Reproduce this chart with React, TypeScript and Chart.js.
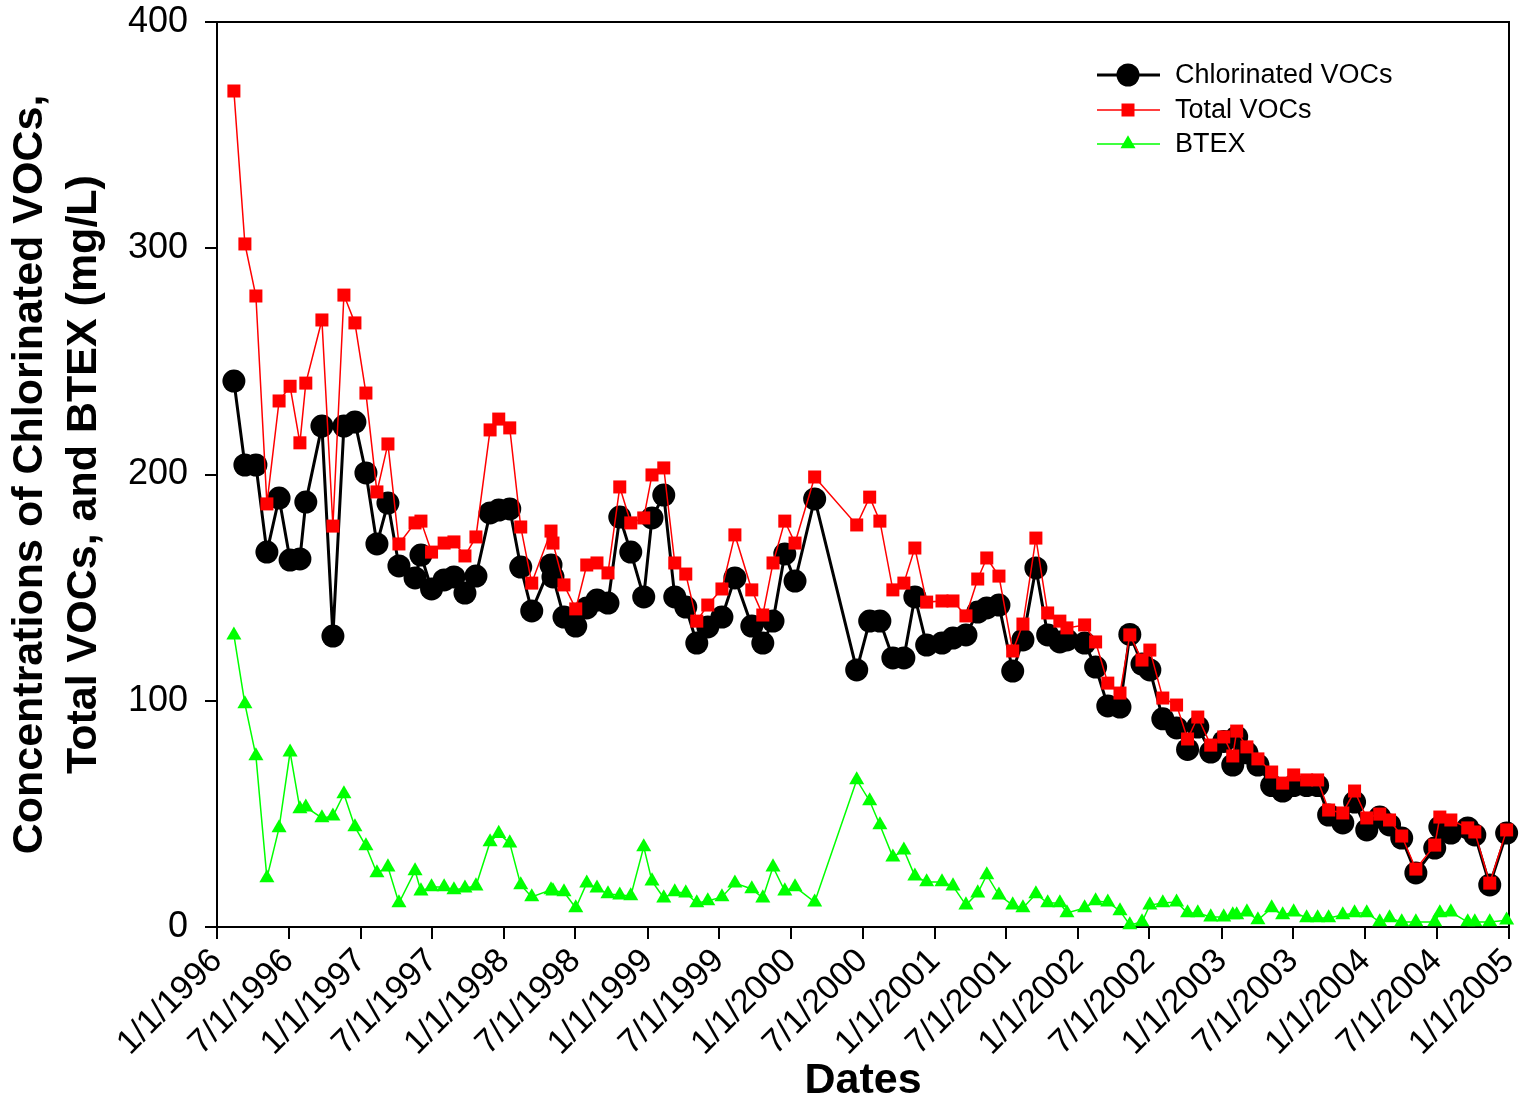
import React, { useEffect, useRef } from 'react';
import { Chart, registerables } from 'chart.js';

Chart.register(...registerables);

// ---- Data ----
const sampleDates = [
  '1996-02-13', '1996-03-12', '1996-04-09', '1996-05-07', '1996-06-07', '1996-07-05', '1996-07-30', '1996-08-14',
  '1996-09-24', '1996-10-22', '1996-11-19', '1996-12-17', '1997-01-14', '1997-02-11', '1997-03-11', '1997-04-08',
  '1997-05-19', '1997-06-03', '1997-06-30', '1997-08-01', '1997-08-26', '1997-09-23', '1997-10-21', '1997-11-26',
  '1997-12-18', '1998-01-15', '1998-02-12', '1998-03-12', '1998-04-30', '1998-05-05', '1998-06-02', '1998-07-02',
  '1998-07-30', '1998-08-25', '1998-09-22', '1998-10-22', '1998-11-19', '1998-12-22', '1999-01-12', '1999-02-11',
  '1999-03-11', '1999-04-08', '1999-05-06', '1999-06-03', '1999-07-09', '1999-08-11', '1999-09-23', '1999-10-21',
  '1999-11-16', '1999-12-16', '2000-01-11', '2000-03-01', '2000-06-16', '2000-07-19', '2000-08-14', '2000-09-16',
  '2000-10-14', '2000-11-11', '2000-12-11', '2001-01-19', '2001-02-16', '2001-03-21', '2001-04-20', '2001-05-13',
  '2001-06-13', '2001-07-18', '2001-08-13', '2001-09-15', '2001-10-15', '2001-11-15', '2001-12-03', '2002-01-17',
  '2002-02-14', '2002-03-17', '2002-04-17', '2002-05-12', '2002-06-12', '2002-07-02', '2002-08-04', '2002-09-08',
  '2002-10-06', '2002-11-01', '2002-12-04', '2003-01-06', '2003-01-29', '2003-02-08', '2003-03-06', '2003-04-03',
  '2003-05-08', '2003-06-05', '2003-07-03', '2003-08-05', '2003-09-02', '2003-09-30', '2003-11-05', '2003-12-05',
  '2004-01-05', '2004-02-07', '2004-03-03', '2004-04-03', '2004-05-09', '2004-06-26', '2004-07-09', '2004-08-06',
  '2004-09-18', '2004-10-06', '2004-11-13', '2004-12-26',
];

const chlorinatedVOCs = [
  241.3, 204.2, 204.2, 165.7, 189.6, 162.2, 162.7, 187.8,
  221.4, 128.6, 221.4, 223.2, 200.7, 169.3, 187.4, 159.6,
  154.3, 164.4, 149.4, 153.4, 154.7, 147.6, 155.1, 183.0,
  184.3, 184.8, 159.1, 139.7, 160.0, 154.7, 137.0, 133.0,
  141.0, 144.5, 143.2, 181.2, 165.7, 145.9, 180.8, 190.9,
  145.9, 141.4, 125.5, 132.6, 137.0, 154.3, 133.0, 125.5,
  135.2, 164.9, 152.9, 189.2, 113.6, 135.2, 135.2, 118.9,
  118.9, 145.9, 124.6, 125.5, 127.7, 129.1, 139.2, 141.0,
  142.3, 113.1, 126.9, 158.7, 129.1, 126.0, 126.9, 125.5,
  114.9, 97.7, 97.2, 129.3, 116.2, 113.6, 92.0, 88.0,
  78.5, 88.4, 77.3, 82.0, 71.6, 84.0, 77.0, 71.6,
  62.5, 60.1, 62.5, 62.5, 62.5, 49.5, 46.0, 55.2,
  42.9, 48.6, 45.1, 39.3, 23.9, 34.9, 44.2, 41.5,
  43.8, 40.7, 18.6, 41.5,
];

const totalVOCs = [
  369.5, 301.9, 278.9, 187.0, 232.5, 239.0, 214.0, 240.4,
  268.3, 177.2, 279.3, 267.0, 236.0, 192.3, 213.5, 169.3,
  178.6, 179.4, 165.7, 169.7, 170.2, 164.0, 172.4, 219.7,
  224.5, 220.6, 176.8, 152.0, 175.0, 169.7, 151.2, 140.6,
  160.0, 160.9, 156.5, 194.5, 178.6, 180.8, 199.8, 202.9,
  160.9, 156.0, 135.2, 142.3, 149.4, 173.3, 149.0, 137.9,
  160.9, 179.4, 169.7, 198.9, 177.7, 190.0, 179.4, 149.0,
  152.0, 167.5, 143.6, 144.1, 144.1, 137.5, 153.8, 163.1,
  155.1, 122.0, 133.9, 171.9, 138.8, 135.2, 132.2, 133.5,
  126.0, 107.8, 103.4, 129.1, 118.0, 122.4, 101.2, 98.1,
  83.1, 92.8, 80.4, 84.0, 75.6, 86.6, 79.6, 74.3,
  68.5, 63.6, 67.2, 65.0, 65.0, 51.7, 50.4, 60.1,
  48.2, 49.9, 47.3, 40.2, 25.6, 36.2, 48.6, 47.3,
  43.8, 42.0, 19.4, 42.9,
];

const btex = [
  129.0, 98.6, 75.6, 21.7, 43.8, 77.3, 52.2, 53.0,
  48.2, 49.0, 58.8, 44.2, 35.8, 23.9, 26.5, 10.6,
  24.8, 15.9, 17.7, 17.7, 16.4, 17.2, 18.1, 37.6,
  41.3, 37.1, 18.6, 13.3, 16.4, 15.9, 15.5, 8.4,
  19.4, 17.2, 14.6, 14.1, 13.7, 35.4, 20.3, 12.8,
  15.5, 15.0, 10.6, 11.5, 13.3, 19.4, 16.8, 12.8,
  26.5, 15.9, 17.7, 11.0, 65.0, 55.7, 45.1, 30.9,
  34.0, 22.5, 19.9, 19.9, 18.1, 9.7, 15.0, 23.0,
  14.1, 9.7, 8.4, 14.6, 10.6, 10.6, 6.2, 8.4,
  11.5, 11.0, 7.1, 0.9, 2.2, 9.7, 10.6, 11.0,
  6.2, 6.2, 4.4, 4.4, 5.3, 5.3, 6.6, 3.1,
  8.4, 5.3, 6.6, 4.0, 4.0, 4.0, 5.3, 6.2,
  6.2, 2.2, 4.0, 2.2, 2.2, 2.2, 6.2, 6.6,
  2.2, 2.2, 2.2, 3.0,
];

const xTickLabels = [
  '1/1/1996', '7/1/1996', '1/1/1997', '7/1/1997', '1/1/1998', '7/1/1998', '1/1/1999', '7/1/1999',
  '1/1/2000', '7/1/2000', '1/1/2001', '7/1/2001', '1/1/2002', '7/1/2002', '1/1/2003', '7/1/2003',
  '1/1/2004', '7/1/2004', '1/1/2005',
];

const yTickValues = [0, 100, 200, 300, 400];

const seriesNames = ['Chlorinated VOCs', 'Total VOCs', 'BTEX'];

// ---- helpers ----
const FONT = "'Liberation Sans', Arial, Helvetica, sans-serif";

function isoToMs(s: string): number {
  const [y, m, d] = s.split('-').map(Number);
  return Date.UTC(y, m - 1, d);
}
function labelToMs(s: string): number {
  const [m, d, y] = s.split('/').map(Number);
  return Date.UTC(y, m - 1, d);
}

const xTickValues = xTickLabels.map(labelToMs);

function pointsOf(values: number[]) {
  return sampleDates.map((d, i) => ({ x: isoToMs(d), y: values[i] }));
}

const framePlugin = {
  id: 'frame',
  beforeDatasetsDraw(chart: any) {
    const { ctx, chartArea } = chart;
    ctx.save();
    ctx.strokeStyle = '#000';
    ctx.lineWidth = 2;
    ctx.beginPath();
    ctx.moveTo(chartArea.left, chartArea.top);
    ctx.lineTo(chartArea.right, chartArea.top);
    ctx.lineTo(chartArea.right, chartArea.bottom);
    ctx.stroke();
    ctx.restore();
  },
};

const legendPlugin = {
  id: 'customLegend',
  afterDraw(chart: any) {
    const { ctx } = chart;
    const rows = [
      { y: 75, color: '#000000', lw: 3, style: 'circle', r: 11.5 },
      { y: 110, color: '#FF0000', lw: 1.5, style: 'rect', r: 6.5 },
      { y: 144, color: '#00FF00', lw: 1.5, style: 'triangle', r: 8.7 },
    ];
    const x0 = 1097;
    const x1 = 1160;
    const xm = 1128;
    const xt = 1175;
    ctx.save();
    rows.forEach((row, i) => {
      ctx.strokeStyle = row.color;
      ctx.fillStyle = row.color;
      ctx.lineWidth = row.lw;
      ctx.beginPath();
      ctx.moveTo(x0, row.y);
      ctx.lineTo(x1, row.y);
      ctx.stroke();
      ctx.beginPath();
      if (row.style === 'circle') {
        ctx.arc(xm, row.y, row.r, 0, Math.PI * 2);
      } else if (row.style === 'rect') {
        ctx.rect(xm - row.r, row.y - row.r, row.r * 2, row.r * 2);
      } else {
        const r = row.r;
        ctx.moveTo(xm, row.y - r);
        ctx.lineTo(xm + r * Math.sin((2 * Math.PI) / 3), row.y + r / 2);
        ctx.lineTo(xm - r * Math.sin((2 * Math.PI) / 3), row.y + r / 2);
        ctx.closePath();
      }
      ctx.fill();
      ctx.fillStyle = '#000';
      ctx.font = `27px ${FONT}`;
      ctx.textAlign = 'left';
      ctx.textBaseline = 'middle';
      ctx.fillText(seriesNames[i], xt, row.y + 1);
    });
    ctx.restore();
  },
};

export default function App() {
  const canvasRef = useRef<HTMLCanvasElement | null>(null);

  useEffect(() => {
    document.body.style.margin = '0';
    const canvas = canvasRef.current;
    if (!canvas) return;

    const chart = new Chart(canvas, {
      type: 'line',
      data: {
        datasets: [
          {
            label: seriesNames[1],
            data: pointsOf(totalVOCs),
            borderColor: '#FF0000',
            backgroundColor: '#FF0000',
            borderWidth: 1.5,
            pointStyle: 'rect',
            pointRadius: 9.2,
            pointBorderWidth: 0,
            pointBackgroundColor: '#FF0000',
            tension: 0,
            order: 0,
            clip: false,
          },
          {
            label: seriesNames[0],
            data: pointsOf(chlorinatedVOCs),
            borderColor: '#000000',
            backgroundColor: '#000000',
            borderWidth: 3,
            pointStyle: 'circle',
            pointRadius: 11.5,
            pointBorderWidth: 0,
            pointBackgroundColor: '#000000',
            tension: 0,
            order: 1,
            clip: false,
          },
          {
            label: seriesNames[2],
            data: pointsOf(btex),
            borderColor: '#00FF00',
            backgroundColor: '#00FF00',
            borderWidth: 1.5,
            pointStyle: 'triangle',
            pointRadius: 8.7,
            pointBorderWidth: 0,
            pointBackgroundColor: '#00FF00',
            tension: 0,
            order: 2,
            clip: false,
          },
        ],
      },
      options: {
        responsive: false,
        animation: false,
        devicePixelRatio: 1,
        layout: { padding: { top: 22, right: 16, left: 0, bottom: 0 } },
        plugins: {
          legend: { display: false },
          tooltip: { enabled: false },
          title: { display: false },
        },
        scales: {
          x: {
            type: 'linear',
            min: xTickValues[0],
            max: xTickValues[xTickValues.length - 1],
            afterBuildTicks: (axis: any) => {
              axis.ticks = xTickValues.map((v) => ({ value: v }));
            },
            afterFit: (axis: any) => {
              axis.height = 180;
              axis.paddingLeft = 0;
              axis.paddingRight = 0;
            },
            ticks: {
              autoSkip: false,
              maxRotation: 45,
              minRotation: 45,
              padding: 2,
              color: '#000',
              font: { family: FONT, size: 34 },
              callback: (value: any) => {
                const idx = xTickValues.indexOf(Number(value));
                return idx >= 0 ? xTickLabels[idx] : '';
              },
            },
            grid: {
              drawOnChartArea: false,
              drawTicks: true,
              tickLength: 12,
              color: '#000',
              lineWidth: 2,
            },
            border: { display: true, color: '#000', width: 2 },
            title: {
              display: true,
              text: 'Dates',
              color: '#000',
              font: { family: FONT, size: 43, weight: 'bold', lineHeight: 1.2 },
              padding: { top: 0, bottom: 0 },
            },
          },
          y: {
            type: 'linear',
            min: 0,
            max: 400,
            afterBuildTicks: (axis: any) => {
              axis.ticks = yTickValues.map((v) => ({ value: v }));
            },
            afterFit: (axis: any) => {
              axis.width = 217;
              axis.paddingTop = 0;
              axis.paddingBottom = 0;
            },
            ticks: {
              padding: 17,
              color: '#000',
              font: { family: FONT, size: 36 },
            },
            grid: {
              drawOnChartArea: false,
              drawTicks: true,
              tickLength: 12,
              color: '#000',
              lineWidth: 2,
            },
            border: { display: true, color: '#000', width: 2 },
            title: {
              display: true,
              text: ['Concentrations of Chlorinated VOCs,', 'Total VOCs, and BTEX (mg/L)'],
              color: '#000',
              font: { family: FONT, size: 43, weight: 'bold', lineHeight: 1.26 },
              padding: { top: 3, bottom: 0 },
            },
          },
        },
      },
      plugins: [framePlugin, legendPlugin],
    } as any);

    return () => {
      chart.destroy();
    };
  }, []);

  return (
    <div style={{ position: 'absolute', left: 0, top: 0, width: 1525, height: 1107, background: '#fff' }}>
      <canvas ref={canvasRef} width={1525} height={1107} style={{ display: 'block', width: 1525, height: 1107 }} />
    </div>
  );
}
